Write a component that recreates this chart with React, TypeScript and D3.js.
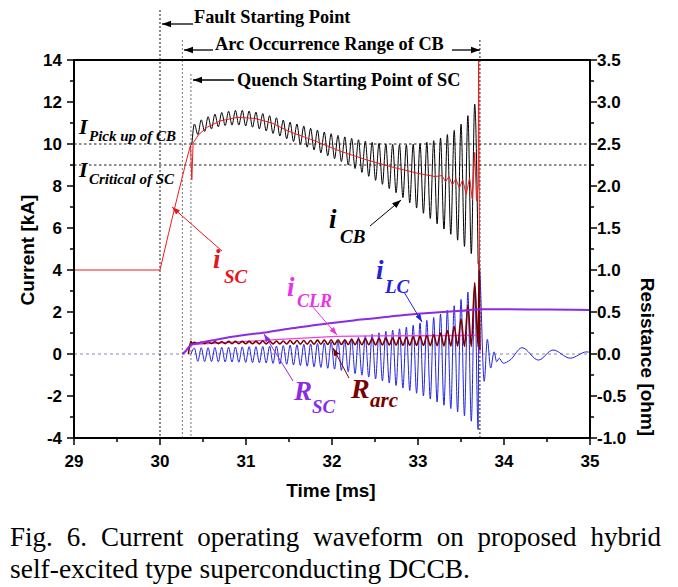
import React, { useEffect, useRef } from 'react';
import * as d3 from 'd3';

const W = 678;
const H = 587;
const PL = 74, PR = 590, PT = 60, PB = 438;

const xTicks = [29, 30, 31, 32, 33, 34, 35];
const xMinor = [29.5, 30.5, 31.5, 32.5, 33.5, 34.5];
const yLeftTicks = [-4, -2, 0, 2, 4, 6, 8, 10, 12, 14];
const yLeftMinor = [-3, -1, 1, 3, 5, 7, 9, 11, 13];
const yRightTicks = [-1.0, -0.5, 0.0, 0.5, 1.0, 1.5, 2.0, 2.5, 3.0, 3.5];
const yRightMinor = [-0.75, -0.25, 0.25, 0.75, 1.25, 1.75, 2.25, 2.75, 3.25];

// event times (ms)
const faultTime = 30.0;
const arcStartTime = 30.26;
const quenchTime = 30.36;
const arcEndTime = 33.72;
const pickUpCurrent = 10;
const criticalCurrent = 9;

// oscillation: time of first peak and period (ms)
const cycleStart = 30.4;
const cyclePeriod = 0.0795;

// i_CB (kA) per-cycle peaks / troughs
const iCbPeaks = [10.95, 11.15, 11.3, 11.42, 11.5, 11.56, 11.6, 11.6, 11.57, 11.52,
  11.45, 11.35, 11.25, 11.14, 11.04, 10.95, 10.85, 10.75, 10.66, 10.57,
  10.49, 10.41, 10.34, 10.27, 10.2, 10.14, 10.08, 10.03, 10.0, 9.98,
  9.97, 9.97, 9.99, 10.02, 10.08, 10.16, 10.28, 10.45, 10.65, 10.95, 11.35, 11.9];
const iCbTroughs = [10.45, 10.6, 10.72, 10.82, 10.88, 10.9, 10.9, 10.86, 10.8, 10.72,
  10.62, 10.5, 10.38, 10.25, 10.12, 9.98, 9.85, 9.72, 9.58, 9.44,
  9.3, 9.16, 9.0, 8.83, 8.65, 8.46, 8.27, 8.08, 7.88, 7.68,
  7.45, 7.2, 6.95, 6.7, 6.45, 6.2, 5.95, 5.7, 5.42, 5.12, 4.78, 4.3];
const iCbLead: [number, number][] = [[30.37, 9.95]];

// i_LC (kA)
const iLcPeaks = [0.28, 0.3, 0.3, 0.31, 0.32, 0.32, 0.33, 0.34, 0.35, 0.35,
  0.36, 0.37, 0.38, 0.4, 0.42, 0.44, 0.46, 0.48, 0.5, 0.53,
  0.57, 0.62, 0.67, 0.73, 0.8, 0.87, 0.94, 1.01, 1.08, 1.14,
  1.2, 1.28, 1.37, 1.48, 1.6, 1.74, 1.9, 2.08, 2.3, 2.6, 2.95, 3.2];
const iLcTroughs = [-0.35, -0.36, -0.36, -0.37, -0.38, -0.38, -0.39, -0.4, -0.41, -0.42,
  -0.43, -0.45, -0.47, -0.49, -0.52, -0.55, -0.58, -0.61, -0.64, -0.68,
  -0.72, -0.78, -0.85, -0.93, -1.01, -1.1, -1.19, -1.28, -1.38, -1.5,
  -1.62, -1.74, -1.87, -2.0, -2.14, -2.28, -2.44, -2.6, -2.76, -2.95, -3.2, -3.6];
const iLcLead: [number, number][] = [[30.36, 0.0]];
const iLcTail: [number, number][] = [[33.71, 4.3], [33.77, -1.3], [33.806, 0.7], [33.845, -0.67],
  [33.884, 0.1], [33.915, -0.37], [33.945, -0.2], [33.99, -0.44], [34.07, -0.29],
  [34.21, 0.3], [34.4, -0.29], [34.57, 0.19], [34.77, -0.2], [34.96, 0.1], [35.0, 0.08]];

// R_arc (ohm)
const rArcPeaks = [0.14, 0.14, 0.145, 0.145, 0.145, 0.15, 0.15, 0.15, 0.15, 0.15,
  0.155, 0.155, 0.155, 0.155, 0.16, 0.16, 0.16, 0.16, 0.165, 0.165,
  0.17, 0.17, 0.17, 0.175, 0.175, 0.18, 0.18, 0.185, 0.19, 0.19,
  0.195, 0.2, 0.205, 0.21, 0.22, 0.23, 0.25, 0.28, 0.33, 0.42, 0.58, 0.85];
const rArcTroughs = [0.125, 0.125, 0.125, 0.124, 0.124, 0.123, 0.123, 0.122, 0.122, 0.121,
  0.121, 0.12, 0.12, 0.119, 0.119, 0.118, 0.118, 0.117, 0.116, 0.115,
  0.115, 0.114, 0.113, 0.112, 0.111, 0.11, 0.109, 0.108, 0.107, 0.106,
  0.105, 0.104, 0.103, 0.102, 0.1, 0.099, 0.097, 0.095, 0.093, 0.09, 0.088, 0.085];
const rArcLead: [number, number][] = [[30.33, 0.0], [30.36, 0.15], [30.375, 0.125]];
const rArcTail: [number, number][] = [[33.712, 1.1], [33.72, 0.05]];

// i_SC (kA)
const iScPoints: [number, number][] = [[29.0, 4.0], [30.0, 4.0], [30.1, 5.75], [30.2, 7.45], [30.3, 9.1],
  [30.355, 9.95], [30.37, 8.3], [30.385, 10.05], [30.45, 10.45], [30.55, 10.8], [30.7, 11.1],
  [30.9, 11.27], [31.1, 11.22], [31.3, 11.0], [31.5, 10.6], [31.8, 10.15], [32.1, 9.65],
  [32.4, 9.25], [32.7, 8.9], [33.0, 8.6], [33.2, 8.45], [33.28, 8.5], [33.32, 8.2], [33.36, 8.45],
  [33.4, 8.05], [33.44, 8.35], [33.48, 7.9], [33.52, 8.3], [33.56, 7.6], [33.6, 8.4], [33.63, 7.4],
  [33.66, 9.6], [33.68, 7.3], [33.7, 8.0], [33.705, 15.0], [33.715, 4.0]];

// i_CLR (kA)
const iClrPoints: [number, number][] = [[30.26, 0.0], [30.3, 0.15], [30.36, 0.45], [31.0, 0.6],
  [31.5, 0.72], [32.05, 0.84], [32.5, 0.86], [33.0, 0.87], [33.5, 0.88], [33.7, 0.9],
  [33.71, 2.5], [33.72, 0.0]];

// R_SC (ohm)
const rScPoints: [number, number][] = [[30.26, 0.0], [30.3, 0.035], [30.35, 0.1], [30.45, 0.13],
  [30.6, 0.16], [30.8, 0.2], [31.0, 0.23], [31.25, 0.26], [31.5, 0.3], [31.75, 0.335],
  [32.0, 0.37], [32.25, 0.4], [32.5, 0.425], [32.75, 0.455], [33.0, 0.478], [33.25, 0.498],
  [33.5, 0.515], [33.72, 0.532], [34.0, 0.532], [34.5, 0.53], [35.0, 0.525]];

const captionLine1 = 'Fig. 6. Current operating waveform on proposed hybrid';
const captionLine2 = 'self-excited type superconducting DCCB.';

function buildOsc(lead: [number, number][], peaks: number[], troughs: number[], tail: [number, number][]) {
  const pts: [number, number][] = [...lead];
  peaks.forEach((p, i) => {
    const t = cycleStart + i * cyclePeriod;
    pts.push([t, p]);
    pts.push([t + cyclePeriod / 2, troughs[i]]);
  });
  return pts.concat(tail);
}

const SANS = '"Liberation Sans", Arial, sans-serif';
const SERIF = '"Liberation Serif", "Times New Roman", serif';

export default function App() {
  const capRef = useRef<SVGGElement>(null);
  const x = d3.scaleLinear().domain([29, 35]).range([PL, PR]);
  const yL = d3.scaleLinear().domain([-4, 14]).range([PB, PT]);
  const yR = d3.scaleLinear().domain([-1, 3.5]).range([PB, PT]);

  const lineL = d3.line<[number, number]>().x(d => x(d[0])).y(d => yL(d[1])).curve(d3.curveMonotoneX);
  const lineR = d3.line<[number, number]>().x(d => x(d[0])).y(d => yR(d[1])).curve(d3.curveMonotoneX);
  const lineLlin = d3.line<[number, number]>().x(d => x(d[0])).y(d => yL(d[1]));

  const iCb = buildOsc(iCbLead, iCbPeaks, iCbTroughs, []);
  const iLc = buildOsc(iLcLead, iLcPeaks, iLcTroughs, iLcTail);
  const rArc = buildOsc(rArcLead, rArcPeaks, rArcTroughs, rArcTail);

  useEffect(() => {
    const g = d3.select(capRef.current);
    g.selectAll('*').remove();
    const words = captionLine1.split(' ');
    const x0 = 10, x1 = 661;
    const nodes = words.map(w => g.append('text').attr('y', 546).attr('font-family', SERIF)
      .attr('font-size', 27).attr('fill', '#000').text(w));
    const widths = nodes.map(n => (n.node() as SVGTextElement).getComputedTextLength());
    const total = widths.reduce((a, b) => a + b, 0);
    const gap = (x1 - x0 - total) / (words.length - 1);
    let cx = x0;
    nodes.forEach((n, i) => { n.attr('x', cx); cx += widths[i] + gap; });
    g.append('text').attr('x', 10).attr('y', 578).attr('font-family', SERIF)
      .attr('font-size', 27).attr('fill', '#000')
      .attr('textLength', 460).attr('lengthAdjust', 'spacingAndGlyphs').text(captionLine2);
  }, []);

  const arrowMarker = (id: string, color: string, size = 8) => (
    <marker id={id} viewBox="0 0 10 10" refX="10" refY="5" markerWidth={size} markerHeight={size}
      markerUnits="userSpaceOnUse" orient="auto">
      <path d="M0,1.5 L10,5 L0,8.5 z" fill={color} />
    </marker>
  );

  const labelStyle = { fontFamily: SERIF, fontWeight: 'bold' as const, fontStyle: 'italic' as const };

  return (
    <svg width={W} height={H} style={{ position: 'absolute', left: 0, top: 0, background: '#fff' }}>
      <defs>
        <clipPath id="plotclip"><rect x={PL} y={PT} width={PR - PL} height={PB - PT} /></clipPath>
        {arrowMarker('ah-black', '#000', 9)}
        {arrowMarker('ah-red', '#e8141c', 8)}
        {arrowMarker('ah-mag', '#e733e7', 8)}
        {arrowMarker('ah-blue', '#2222dd', 8)}
        {arrowMarker('ah-purple', '#8b2be2', 8)}
        {arrowMarker('ah-dred', '#7a0000', 8)}
      </defs>
      <rect x={0} y={0} width={W} height={H} fill="#fff" />

      {/* reference lines */}
      <line x1={PL} x2={PR} y1={yL(0)} y2={yL(0)} stroke="#8a86a8" strokeWidth={1.2} strokeDasharray="3,3" />
      <line x1={PL} x2={PR} y1={yL(pickUpCurrent)} y2={yL(pickUpCurrent)} stroke="#000" strokeWidth={0.9} strokeDasharray="2.5,2.5" />
      <line x1={PL} x2={PR} y1={yL(criticalCurrent)} y2={yL(criticalCurrent)} stroke="#000" strokeWidth={0.9} strokeDasharray="2.5,2.5" />
      <line x1={x(faultTime)} x2={x(faultTime)} y1={10} y2={PB} stroke="#000" strokeWidth={0.9} strokeDasharray="2,2" />
      <line x1={x(arcStartTime)} x2={x(arcStartTime)} y1={40} y2={PB} stroke="#777" strokeWidth={1} strokeDasharray="2,2" />
      <line x1={x(quenchTime)} x2={x(quenchTime)} y1={74} y2={PB} stroke="#777" strokeWidth={1} strokeDasharray="2,2" />
      <line x1={x(arcEndTime)} x2={x(arcEndTime)} y1={40} y2={PB} stroke="#000" strokeWidth={0.9} strokeDasharray="2,2" />

      {/* curves */}
      <g clipPath="url(#plotclip)" fill="none">
        <path d={lineL(iLc) || ''} stroke="#2323e0" strokeWidth={1} />
        <path d={lineL(iCb) || ''} stroke="#000" strokeWidth={1} />
        <path d={lineLlin(iClrPoints) || ''} stroke="#f03cf0" strokeWidth={1.3} />
        <path d={lineR(rArc) || ''} stroke="#7a0000" strokeWidth={1.6} />
        <path d={lineLlin(iScPoints) || ''} stroke="#ee1c1c" strokeWidth={1} />
        <path d={lineR(rScPoints) || ''} stroke="#8b2be2" strokeWidth={2} />
      </g>

      {/* axes frame */}
      <g stroke="#000" strokeWidth={2} fill="none">
        <line x1={PL} x2={PL} y1={PT} y2={PB + 1} />
        <line x1={PR} x2={PR} y1={PT} y2={PB + 1} />
        <line x1={PL - 1} x2={PR + 1} y1={PB} y2={PB} />
        <line x1={PL - 1} x2={PR + 1} y1={PT} y2={PT} />
      </g>
      <g stroke="#000" strokeWidth={1.5}>
        {xTicks.map(t => <line key={'xt' + t} x1={x(t)} x2={x(t)} y1={PB} y2={PB + 7} />)}
        {xMinor.map(t => <line key={'xm' + t} x1={x(t)} x2={x(t)} y1={PB} y2={PB + 4} />)}
        {yLeftTicks.map(t => <line key={'yl' + t} x1={PL - 7} x2={PL} y1={yL(t)} y2={yL(t)} />)}
        {yLeftMinor.map(t => <line key={'ylm' + t} x1={PL - 4} x2={PL} y1={yL(t)} y2={yL(t)} />)}
        {yRightTicks.map(t => <line key={'yr' + t} x1={PR} x2={PR + 7} y1={yR(t)} y2={yR(t)} />)}
        {yRightMinor.map(t => <line key={'yrm' + t} x1={PR} x2={PR + 4} y1={yR(t)} y2={yR(t)} />)}
      </g>
      <g fontFamily={SANS} fontWeight="bold" fontSize={17} fill="#000">
        {xTicks.map(t => <text key={'xl' + t} x={x(t)} y={467} textAnchor="middle">{t}</text>)}
        {yLeftTicks.map(t => <text key={'yll' + t} x={62} y={yL(t) + 6} textAnchor="end">{t}</text>)}
        {yRightTicks.map(t => <text key={'yrl' + t} x={597} y={yR(t) + 6} textAnchor="start">{t.toFixed(1)}</text>)}
      </g>
      <g fontFamily={SANS} fontWeight="bold" fontSize={19} fill="#000">
        <text x={331} y={497} textAnchor="middle">Time [ms]</text>
        <text transform="translate(34,250) rotate(-90)" textAnchor="middle">Current [kA]</text>
        <text transform="translate(641,357) rotate(90)" textAnchor="middle">Resistance [ohm]</text>
      </g>

      {/* top annotations */}
      <g fontFamily={SERIF} fontWeight="bold" fontSize={18.3} fill="#000">
        <text x={194} y={23}>Fault Starting Point</text>
        <text x={215} y={50}>Arc Occurrence Range of CB</text>
        <text x={237} y={86}>Quench Starting Point of SC</text>
      </g>
      <g stroke="#000" strokeWidth={1.3}>
        <line x1={193} y1={24} x2={162} y2={24} markerEnd="url(#ah-black)" />
        <line x1={213} y1={50} x2={184} y2={50} markerEnd="url(#ah-black)" />
        <line x1={452} y1={50} x2={480} y2={50} markerEnd="url(#ah-black)" />
        <line x1={234} y1={80} x2={193} y2={80} markerEnd="url(#ah-black)" />
      </g>

      {/* current level labels */}
      <g {...labelStyle} fill="#000">
        <text x={79} y={134} fontSize={22}>I</text>
        <text x={89} y={141} fontSize={15}>Pick up of CB</text>
        <text x={79} y={177} fontSize={22}>I</text>
        <text x={89} y={184} fontSize={15}>Critical of SC</text>
      </g>

      {/* curve labels */}
      <g {...labelStyle}>
        <text x={213} y={268} fontSize={27} fill="#e8141c">i</text>
        <text x={224} y={283} fontSize={19} fill="#e8141c">SC</text>
        <text x={329} y={228} fontSize={27} fill="#000">i</text>
        <text x={340} y={243} fontSize={19} fill="#000">CB</text>
        <text x={287} y={296} fontSize={27} fill="#e733e7">i</text>
        <text x={297} y={307} fontSize={18} fill="#e733e7">CLR</text>
        <text x={376} y={279} fontSize={27} fill="#2222dd">i</text>
        <text x={385} y={293} fontSize={19} fill="#2222dd">LC</text>
        <text x={294} y={400} fontSize={27} fill="#8b2be2">R</text>
        <text x={312} y={413} fontSize={19} fill="#8b2be2">SC</text>
        <text x={351} y={398} fontSize={28} fill="#7a0000">R</text>
        <text x={370} y={407} fontSize={21} fill="#7a0000">arc</text>
      </g>
      <g strokeWidth={1}>
        <line x1={222} y1={251} x2={172} y2={207} stroke="#e8141c" markerEnd="url(#ah-red)" />
        <line x1={370} y1={226} x2={401} y2={200} stroke="#000" markerEnd="url(#ah-black)" />
        <line x1={312} y1={306} x2={337} y2={335} stroke="#e733e7" markerEnd="url(#ah-mag)" />
        <line x1={404} y1={292} x2={422} y2={322} stroke="#2222dd" markerEnd="url(#ah-blue)" />
        <line x1={293} y1={381} x2={264} y2={334} stroke="#8b2be2" markerEnd="url(#ah-purple)" />
        <line x1={349} y1={378} x2={333} y2={348} stroke="#7a0000" markerEnd="url(#ah-dred)" />
      </g>

      <g ref={capRef} />
    </svg>
  );
}
